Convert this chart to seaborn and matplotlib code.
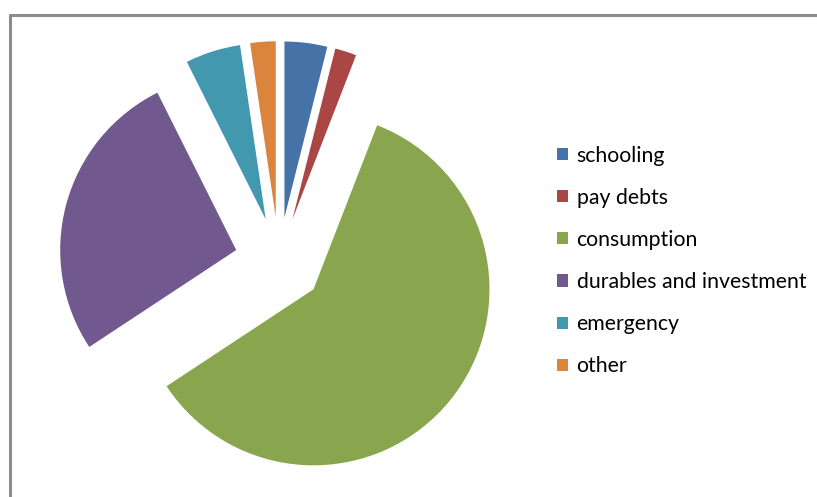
import matplotlib
matplotlib.use("Agg")
import matplotlib.pyplot as plt
from matplotlib.lines import Line2D
import seaborn as sns

categories = ["schooling", "pay debts", "consumption", "durables and investment", "emergency", "other"]
values = [3.92, 1.97, 59.83, 26.89, 5.06, 2.33]
colors = ["#4572A7", "#AA4643", "#89A54E", "#71588F", "#4198AF", "#DB843D"]

sns.set_theme(style="white")
plt.rcParams['font.family'] = ['Lato', 'DejaVu Sans']

W, H = 817, 497
R = 176.0
fig = plt.figure(figsize=(W / 100, H / 100), dpi=100)
fig.patch.set_facecolor("white")
ax = fig.add_axes([0, 0, 1, 1])
ax.set_xlim(0, W / R)
ax.set_ylim(0, H / R)
ax.axis("off")

wedges, _ = ax.pie(values, colors=colors, startangle=90, counterclock=False,
                   radius=1.0, center=(279 / R, (H - 261.5) / R),
                   explode=[44.3 / R] * len(values),
                   wedgeprops=dict(linewidth=0, antialiased=True))
ax.set_aspect("auto")
ax.set_xlim(0, W / R)
ax.set_ylim(0, H / R)

# chart-area border (top and left visible)
fig.add_artist(Line2D([10 / W, 10 / W], [0, 1 - 15 / H], transform=fig.transFigure,
                      color="#8c8c8c", linewidth=2.2))
fig.add_artist(Line2D([10 / W, 1], [1 - 15 / H, 1 - 15 / H], transform=fig.transFigure,
                      color="#8c8c8c", linewidth=2.2))

leg = fig.legend(wedges, categories, loc="center left",
                 bbox_to_anchor=(557 / W, 1 - 261 / H), frameon=False,
                 fontsize=15.3, handlelength=0.5, handleheight=0.5,
                 handletextpad=0.42, labelspacing=1.04, borderpad=0,
                 borderaxespad=0)
for t in leg.get_texts():
    t.set_color("#000000")

fig.savefig("out.png", dpi=100, facecolor="white")
